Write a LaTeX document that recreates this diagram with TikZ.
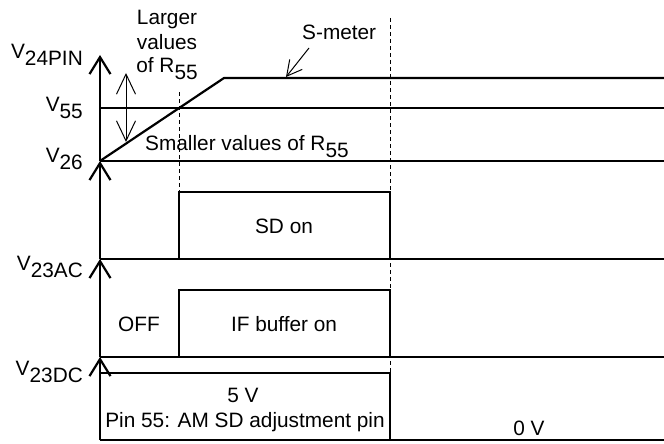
\documentclass[tikz,border=0pt]{standalone}
\usepackage{fontspec}
\setmainfont{Liberation Sans}
\usetikzlibrary{arrows.meta}
\newcommand\Vsub[1]{V\raisebox{-7pt}{#1}}
\begin{document}
\begin{tikzpicture}[x=1pt,y=-1pt,
  sig/.style={line width=2.2pt,line join=miter},
  axisarrow/.style={line width=2.2pt,-{Straight Barb[length=17pt,width=21pt]}},
  guide/.style={line width=0.9pt,dash pattern=on 4pt off 3pt},
  ptr/.style={line width=1pt,-{Straight Barb[length=15pt,width=16pt]}},
  dblptr/.style={line width=1pt,{Straight Barb[length=20pt,width=19pt]}-{Straight Barb[length=20pt,width=19pt]}},
  lbl/.style={inner sep=0pt,anchor=base,font=\fontsize{20.8}{24}\selectfont},
  vlbl/.style={lbl,anchor=base east}]
\useasboundingbox (0,0) rectangle (664,444);
% coordinates
\coordinate (a0) at (100,440);
\coordinate (a1) at (100,357);
\coordinate (a2) at (100,259);
\coordinate (a3) at (100,161);
\coordinate (a4) at (100,55);
% guides
\draw[guide] (179,92) -- (179,192);
\draw[guide] (390,18) -- (390,440);
% axis arrows
\draw[axisarrow] (a0) -- (a1);
\draw[axisarrow] (a1) -- (a2);
\draw[axisarrow] (a2) -- (a3);
\draw[axisarrow] (a3) -- (a4);
% top panel
\coordinate (knee) at (224,78);
\draw[sig] (a3) -- (knee) -- (664,78);
\draw[sig] (100,108) -- (664,108);
\draw[sig] (a3) -- (664,161);
% SD panel
\draw[sig] (179,259) -- (179,192) -- (390,192) -- (390,259);
\draw[sig] (a2) -- (664,259);
% IF panel
\draw[sig] (179,357) -- (179,290) -- (390,290) -- (390,357);
\draw[sig] (a1) -- (664,357);
% bottom panel
\draw[sig] (100,373) -- (390,373) -- (390,440);
\draw[sig] (a0) -- (664,440);
% pointers
\coordinate (sp0) at (309,48);
\coordinate (sp1) at (286,77);
\draw[ptr] (sp0) -- (sp1);
\coordinate (d0) at (126,142);
\coordinate (d1) at (126,73);
\draw[dblptr] (d0) -- (d1);
% labels
\node[vlbl] (v24) at (83,59) {\Vsub{24PIN}};
\node[vlbl] (v55) at (83,111) {\Vsub{55}};
\node[vlbl] (v26) at (83,162) {\Vsub{26}};
\node[vlbl] (v23ac) at (83,270) {\Vsub{23AC}};
\node[vlbl] (v23dc) at (83,375) {\Vsub{23DC}};
\node[lbl] (larger) at (167,25) {Larger};
\node[lbl] (values) at (167,49) {values};
\node[lbl] (ofr) at (167,73) {of R\raisebox{-7pt}{55}};
\node[lbl,anchor=base west] (smeter) at (302,40) {S-meter};
\node[lbl,anchor=base west] (smaller) at (145,150) {Smaller values of R\raisebox{-7pt}{55}};
\node[lbl] (sdon) at (284,233) {SD on};
\node[lbl] (off) at (139,331) {OFF};
\node[lbl] (ifon) at (284,331) {IF buffer on};
\node[lbl] (fivev) at (243,402) {5 V};
\node[lbl] (pin) at (245,427) {Pin 55: AM SD adjustment pin};
\node[lbl] (zerov) at (529,435) {0 V};
\end{tikzpicture}
\end{document}
